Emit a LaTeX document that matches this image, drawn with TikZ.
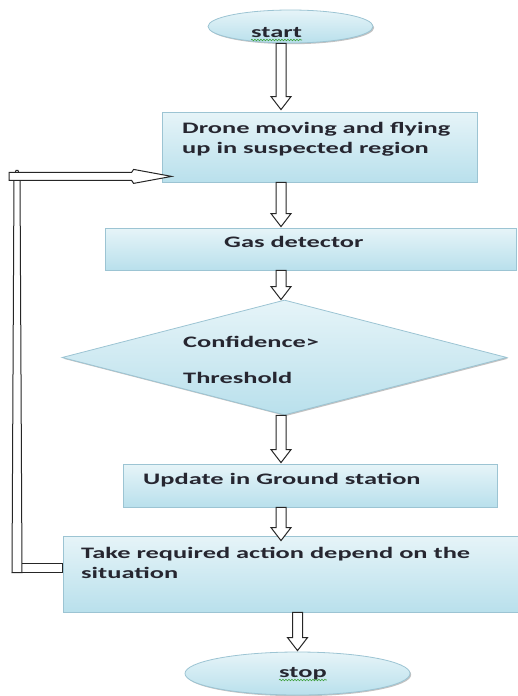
\documentclass[tikz,border=0pt]{standalone}
\usepackage{fontspec}
\setmainfont{Carlito}[FakeStretch=1.65]
\usetikzlibrary{calc,shapes.geometric,shadows,decorations.pathmorphing}
\definecolor{boxtop}{HTML}{E6F4F8}
\definecolor{boxbot}{HTML}{B9E0EC}
\definecolor{boxline}{HTML}{9CC4D3}
\definecolor{txt}{HTML}{262630}
\definecolor{squig}{HTML}{3FA03F}
\newcommand\blockarrow[2]{\draw[blk] ($#1+(-5,0)$) -- ($#2+(-5,-13)$) -- ($#2+(-10,-13)$) -- #2 -- ($#2+(10,-13)$) -- ($#2+(5,-13)$) -- ($#1+(5,0)$) -- cycle;}
\begin{document}
\begin{tikzpicture}[x=1pt,y=-1pt,
  box/.style={draw=boxline, line width=0.8pt, top color=boxtop, bottom color=boxbot, inner sep=0pt,
    drop shadow={shadow xshift=1.2pt, shadow yshift=-1.2pt, fill=black!40, opacity=0.6}},
  lbl/.style={font=\fontsize{16}{20}\selectfont\bfseries, text=txt, inner sep=0pt, anchor=base west, align=left},
  blk/.style={draw=black!85, fill=white, line width=1pt, line join=miter},
  squiggle/.style={draw=squig, line width=0.6pt, decorate, decoration={snake, amplitude=0.8pt, segment length=3pt}}
]
\useasboundingbox (0,0) rectangle (518,696);
% shapes
\node[box, ellipse, minimum width=165pt, minimum height=33pt] (start) at (290.5,26.5) {};
\node[box, minimum width=315pt, minimum height=70pt] (drone) at (319.5,147) {};
\node[box, minimum width=411pt, minimum height=42pt] (gas) at (310.5,249) {};
\node[box, diamond, minimum width=445pt, minimum height=115pt] (dec) at (284.5,357.5) {};
\node[box, minimum width=374pt, minimum height=43pt] (upd) at (310,485.5) {};
\node[box, minimum width=458pt, minimum height=76pt] (take) at (292,574) {};
\node[box, ellipse, minimum width=225pt, minimum height=43pt] (stop) at (297.5,673.5) {};
% texts
\node[lbl] (tstart) at (251,37) {start};
\node[lbl] (tdrone) at (182,153) {Drone moving and flying\\up in suspected region};
\node[lbl] (tgas) at (224,247) {Gas detector};
\node[lbl] (tdec1) at (183,347) {Confidence>};
\node[lbl] (tdec2) at (183,383) {Threshold};
\node[lbl] (tupd) at (143,484) {Update in Ground station};
\node[lbl] (ttake) at (81,578) {Take required action depend on the\\situation};
\node[lbl] (tstop) at (279,677) {stop};
\draw[squiggle] ($(tstart.base west)+(0,3)$) -- ($(tstart.base east)+(0,3)$);
\draw[squiggle] ($(tstop.base west)+(0,3)$) -- ($(tstop.base east)+(0,3)$);
% vertical block arrows
\coordinate (ax) at (281,0);
\coordinate (ax2) at (297.5,0);
\blockarrow{(start.south -| ax)}{($(drone.north -| ax)+(0,-2)$)}
\blockarrow{(drone.south -| ax)}{($(gas.north -| ax)+(0,-1)$)}
\blockarrow{(gas.south -| ax)}{(dec.north -| ax)}
\blockarrow{(dec.south -| ax)}{($(upd.north -| ax)+(0,-1)$)}
\blockarrow{(upd.south -| ax)}{($(take.north -| ax)+(0,5)$)}
\blockarrow{(take.south -| ax2)}{($(stop.north -| ax2)+(0,-1)$)}
% feedback loop
\coordinate (tb) at ($(take.west)+(0,-6.5)$);
\coordinate (td) at ($(drone.south west)+(10,-6)$);
\coordinate (lx) at (17,0);
\draw[blk] ($(tb)+(0,-4.5)$) -- ($(tb -| lx)+(0,-4.5)$) -- ($(tb -| lx)+(0,4.5)$) -- ($(tb)+(0,4.5)$) -- cycle;
\draw[blk] ($(tb -| lx)+(-5,5)$) -- ($(td -| lx)+(-3,0)$) -- ($(td -| lx)+(-1,-6)$) -- ($(td -| lx)+(1,-6)$) -- ($(td -| lx)+(3,0)$) -- ($(tb -| lx)+(5,5)$) -- cycle;
\draw[blk] ($(td -| lx)+(-8,-4)$) -- ($(td)+(-40,-4)$) -- ($(td)+(-38,-7)$) -- (td) -- ($(td)+(-38,7)$) -- ($(td)+(-40,4)$) -- ($(td -| lx)+(-8,4)$) -- cycle;
\end{tikzpicture}
\end{document}
